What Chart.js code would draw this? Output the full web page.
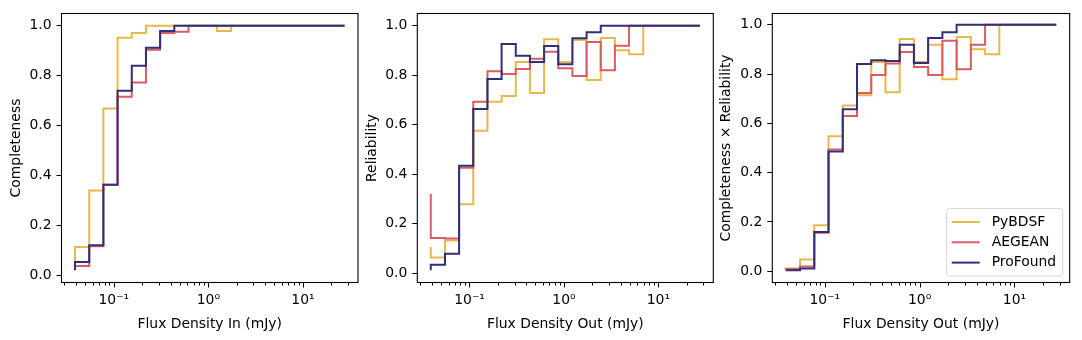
<!DOCTYPE html>
<html>
<head>
<meta charset="utf-8">
<script src="https://cdn.jsdelivr.net/npm/chart.js@4"></script>
<style>
  body { margin: 0; background: #fff; }
  #wrap { position: relative; width: 1082px; height: 340px; background: #fff; }
  canvas { position: absolute; top: 0; }
</style>
</head>
<body>
<div id="wrap">
  <canvas id="c1" width="360" height="340" style="left:0px"></canvas>
  <canvas id="c2" width="355" height="340" style="left:360px"></canvas>
  <canvas id="c3" width="367" height="340" style="left:715px"></canvas>
</div>
<script>
// flux bins (mJy), shared by all panels
const fluxBins = [0.0389, 0.0550, 0.0776, 0.1096, 0.1549, 0.2188, 0.3090, 0.4365, 0.6166, 0.8710,
                  1.230, 1.738, 2.455, 3.467, 4.898, 6.918, 9.772, 13.80, 19.50, 27.54];

const seriesNames = ["PyBDSF", "AEGEAN", "ProFound"];
const seriesColors = ["#e9b84b", "#db5b63", "#2f3079"];

// completeness vs flux in
const compPy  = [0.05, 0.113, 0.340, 0.668, 0.952, 0.971, 1, 1, 1, 1, 1, 0.979, 1, 1, 1, 1, 1, 1, 1, 1];
const compAe  = [0.03, 0.037, 0.116, 0.363, 0.715, 0.772, 0.904, 0.971, 0.976, 1, 1, 1, 1, 1, 1, 1, 1, 1, 1, 1];
const compPro = [0.02, 0.053, 0.120, 0.363, 0.739, 0.840, 0.912, 0.979, 1, 1, 1, 1, 1, 1, 1, 1, 1, 1, 1, 1];

// reliability vs flux out
const relPy  = [0.105, 0.063, 0.132, 0.278, 0.575, 0.692, 0.716, 0.853, 0.728, 0.945, 0.853, 0.942, 0.780, 0.950, 0.901, 0.884, 1, 1, 1, 1];
const relAe  = [0.32, 0.142, 0.140, 0.426, 0.692, 0.816, 0.805, 0.825, 0.866, 0.894, 0.828, 0.796, 0.934, 0.820, 0.919, 1, 1, 1, 1, 1];
const relPro = [0.011, 0.034, 0.078, 0.434, 0.663, 0.784, 0.926, 0.878, 0.853, 0.918, 0.844, 0.949, 0.973, 1, 1, 1, 1, 1, 1, 1];

// completeness x reliability vs flux out
const crPy  = [0.01, 0.011, 0.047, 0.186, 0.548, 0.673, 0.714, 0.849, 0.726, 0.942, 0.849, 0.919, 0.779, 0.951, 0.901, 0.881, 1, 1, 1, 1];
const crAe  = [0.005, 0.009, 0.019, 0.156, 0.494, 0.630, 0.723, 0.796, 0.843, 0.890, 0.829, 0.796, 0.935, 0.820, 0.919, 1, 1, 1, 1, 1];
const crPro = [0.004, 0.004, 0.011, 0.159, 0.486, 0.657, 0.841, 0.856, 0.853, 0.919, 0.845, 0.947, 0.970, 1, 1, 1, 1, 1, 1, 1];

const yTicks = [0, 0.2, 0.4, 0.6, 0.8, 1.0];
const xMajorTicks = [0.1, 1, 10];
const xMajorLabels = ["10\u207B\u00B9", "10\u2070", "10\u00B9"];

Chart.defaults.font.family = "'DejaVu Sans', sans-serif";
Chart.defaults.font.size = 13.9;
Chart.defaults.color = "#000";

// frame + x tick marks (major/minor) like matplotlib
const framePlugin = {
    id: "frame",
    afterDraw(chart) {
        const { ctx, chartArea: a } = chart;
        const xs = chart.scales.x;
        ctx.save();
        ctx.strokeStyle = "#000";
        ctx.lineWidth = 1;
        xs.ticks.forEach(t => {
            const px = Math.round(xs.getPixelForValue(t.value)) + 0.5;
            const len = t.label ? 5 : 3;
            ctx.beginPath();
            ctx.moveTo(px, a.bottom);
            ctx.lineTo(px, a.bottom + len);
            ctx.stroke();
        });
        ctx.lineWidth = 1.1;
        ctx.strokeRect(a.left, a.top, a.right - a.left, a.bottom - a.top);
        ctx.restore();
    }
};

const legendPlugin = {
    id: "boxLegend",
    afterDraw(chart, args, opts) {
        if (!opts.show) return;
        const { ctx, chartArea: a } = chart;
        const w = 116, h = 67.5, rowH = 20.3;
        const x0 = a.right - 7 - w, y0 = a.bottom - 6.5 - h;
        ctx.save();
        ctx.beginPath();
        ctx.roundRect(x0, y0, w, h, 3);
        ctx.fillStyle = "rgba(255,255,255,0.8)";
        ctx.fill();
        ctx.strokeStyle = "#d6d6d6";
        ctx.lineWidth = 1;
        ctx.stroke();
        ctx.font = "13.9px 'DejaVu Sans'";
        ctx.textBaseline = "middle";
        chart.data.datasets.forEach((ds, i) => {
            const y = y0 + 13.5 + i * rowH;
            ctx.strokeStyle = ds.borderColor;
            ctx.lineWidth = 2;
            ctx.beginPath();
            ctx.moveTo(x0 + 5, y);
            ctx.lineTo(x0 + 33, y);
            ctx.stroke();
            ctx.fillStyle = "#000";
            ctx.fillText(ds.label, x0 + 45, y);
        });
        ctx.restore();
    }
};

function makePanel(id, values, yTitle, xTitle, yMin, yMax, yWidth, titlePad, rightPad, showLegend) {
    const datasets = values.map((vals, i) => ({
        label: seriesNames[i],
        data: fluxBins.map((f, j) => ({ x: f, y: vals[j] })),
        borderColor: seriesColors[i],
        borderWidth: 2,
        pointRadius: 0,
        fill: false,
        stepped: "after",
        order: values.length - i
    }));
    return new Chart(document.getElementById(id), {
        type: "line",
        data: { datasets },
        plugins: [framePlugin, legendPlugin],
        options: {
            responsive: false,
            animation: false,
            layout: { padding: { left: 0, right: rightPad, top: 13.5, bottom: 0 } },
            scales: {
                x: {
                    type: "logarithmic",
                    min: 0.028,
                    max: 38.2,
                    border: { display: false },
                    grid: { drawOnChartArea: false, tickLength: 5, tickColor: "transparent" },
                    afterBuildTicks(scale) {
                        const ticks = [];
                        for (let e = -2; e <= 1; e++) {
                            for (let m = 1; m <= 9; m++) {
                                const v = m * Math.pow(10, e);
                                if (v >= scale.min && v <= scale.max) ticks.push({ value: v });
                            }
                        }
                        scale.ticks = ticks;
                    },
                    ticks: {
                        autoSkip: false,
                        maxRotation: 0,
                        minRotation: 0,
                        padding: 5,
                        callback(v) {
                            const k = xMajorTicks.findIndex(t => Math.abs(t - v) / t < 1e-6);
                            return k >= 0 ? xMajorLabels[k] : "";
                        }
                    },
                    title: { display: true, text: xTitle, padding: { top: 0, bottom: 7.7 } },
                    afterFit(scale) { scale.height = 57.5; }
                },
                y: {
                    min: yMin,
                    max: yMax,
                    border: { display: false },
                    grid: { drawOnChartArea: false, tickLength: 5, tickColor: "#000", tickWidth: 1 },
                    afterBuildTicks(scale) { scale.ticks = yTicks.map(v => ({ value: v })); },
                    ticks: { padding: 5, callback: v => v.toFixed(1) },
                    title: { display: true, text: yTitle, padding: { top: titlePad, bottom: 0 } },
                    afterFit(scale) { scale.width = yWidth; }
                }
            },
            plugins: {
                legend: { display: false },
                tooltip: { enabled: false },
                boxLegend: { show: showLegend }
            }
        }
    });
}

makePanel("c1", [compPy, compAe, compPro], "Completeness", "Flux Density In (mJy)", -0.029, 1.049, 61.5, 7.7, 2, false);
makePanel("c2", [relPy, relAe, relPro], "Reliability", "Flux Density Out (mJy)", -0.038, 1.049, 57.3, 3.7, 1.7, false);
makePanel("c3", [crPy, crAe, crPro], "Completeness \u00D7 Reliability", "Flux Density Out (mJy)", -0.046, 1.046, 57.3, 2.7, 12.3, true);
</script>
</body>
</html>
